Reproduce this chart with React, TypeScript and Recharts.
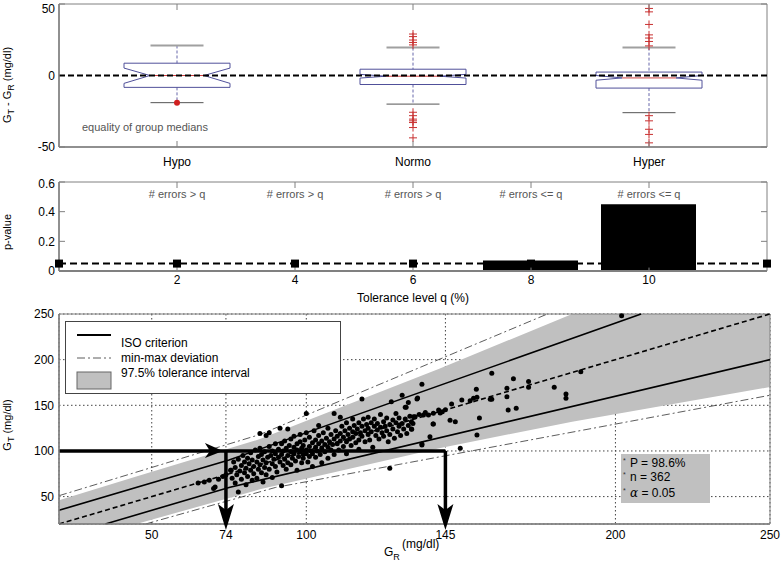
import React from "react";
import {
  ComposedChart,
  Bar,
  Line,
  Area,
  Scatter,
  XAxis,
  YAxis,
  CartesianGrid,
  ReferenceLine,
  ReferenceArea,
} from "recharts";

const FONT = "'Liberation Sans', Arial, Helvetica, sans-serif";
const AXIS = "#808080";
const W = 784;

// ---- top panel: G_T - G_R per glycaemic range
const groups = ["Hypo", "Normo", "Hyper"];
const q1 = [-8.3, -6.3, -8.8];
const q3 = [8.6, 4.4, 2.4];
const medians = [0, -0.5, -1.7];
const notchLo = [-5.5, -1.8, -3.3];
const notchHi = [5.2, 0.8, 0];
const whiskerLo = [-19, -20, -26];
const whiskerHi = [21, 19.5, 19.5];
const outliers = [
  [-19],
  [29, 27.2, 24.8, 23.1, 21.4, -25.7, -28.1, -30.5, -31.7, -32.9, -36.4, -43.6],
  [46.9, 44.5, 35.7, 28.4, 26.2, 23.8, 20.7, -28.1, -31.7, -37.6, -41.2, -47.1],
];
const outlierMarks = ["dot", "plus", "plus"];
const diffTicks = [-50, 0, 50];

// ---- middle panel: p-value per tolerance level
const tolLevels = [0, 2, 4, 6, 8, 10, 12];
const pValues = [0, 0, 0, 0, 0.07, 0.45, 0];
const alphaLevel = [0.05, 0.05, 0.05, 0.05, 0.05, 0.05, 0.05];
const testTags = ["", "# errors > q", "# errors > q", "# errors > q", "# errors <= q", "# errors <= q", ""];
const qTicks = [2, 4, 6, 8, 10];
const pTicks = [0, 0.2, 0.4, 0.6];

// ---- bottom panel: G_T vs G_R
const grTicks = [50, 74, 100, 145, 200, 250];
const gtTicks = [50, 100, 150, 200, 250];
const isoUpper = [[20, 35], [75, 90], [208.3, 250]];
const isoLower = [[35, 20], [75, 60], [250, 200]];
const identity = [[20, 20], [250, 250]];
const minmaxUpper = [[20, 51], [85, 118], [178, 250]];
const minmaxLower = [[48, 20], [90, 60], [250, 161]];
const bandX = [20, 45, 85, 143, 186, 250];
const bandLo = [20, 20, 58, 103, 132, 170];
const bandHi = [46, 72, 113, 190, 250, 250];
const arrowH = [[20, 100], [145, 100]];
const arrowV74 = [[74, 100], [74, 20]];
const arrowV145 = [[145, 100], [145, 20]];
const arrowTips = [
  { x: 74, y: 100, dir: "right" },
  { x: 74, y: 20, dir: "down" },
  { x: 145, y: 20, dir: "down" },
];
const readings: [number, number][] = [
  [65, 65], [67, 66], [68.6, 68], [70, 59], [70.5, 60.5], [71.6, 69], [73, 72], [74, 74], [75.7, 79],
  [75.5, 79], [76, 70], [76.5, 88], [77, 82], [77, 65], [77.5, 74], [78, 55], [78, 91], [78.5, 78],
  [79, 84], [79, 69], [79.5, 95], [80, 76], [80, 88], [80.5, 63], [80.5, 81], [81, 92], [81, 72],
  [81.5, 86], [82, 79], [82, 98], [82.5, 68], [82.5, 90], [83, 83], [83, 75], [83.5, 101], [84, 88],
  [84, 70], [84.5, 94], [84.5, 80], [85, 119], [85, 103], [85, 85], [85.5, 76], [85.5, 96], [86, 66],
  [86, 90], [86.5, 82], [86.5, 99], [87, 117], [87, 87], [87, 74], [87.5, 93], [88, 120], [88, 105],
  [88, 80], [88.5, 95], [89, 86], [89, 100], [89, 71], [89.5, 91], [90, 108], [90, 83], [90, 97],
  [90.5, 77], [91, 102], [91, 93], [91.5, 125], [91.5, 88], [92, 62], [92, 108], [92, 96], [92.5, 84],
  [92.5, 100], [93, 111], [93, 91], [93.5, 103], [93.5, 80], [94, 124], [94, 95], [94, 87], [94.5, 106],
  [95, 99], [95, 113], [95, 85], [95.5, 92], [96, 104], [96, 97], [96, 116], [96.5, 89], [97, 101],
  [97, 108], [97, 79], [97.5, 94], [98, 110], [98, 99], [98, 118], [98.5, 103], [98.5, 87], [99, 96],
  [99, 106], [99, 92], [99.5, 112], [100, 141], [100, 101], [100, 97], [100, 120], [100.5, 88], [101, 105],
  [101, 94], [101, 115], [101.5, 100], [102, 109], [102, 83], [102, 97], [102.5, 122], [103, 104], [103, 112],
  [103, 93], [103.5, 100], [104, 128], [104, 108], [104, 117], [104.5, 96], [105, 111], [105, 103], [105, 87],
  [105.5, 120], [106, 107], [106, 99], [106.5, 114], [107, 125], [107, 104], [107, 92], [107.5, 110], [108, 118],
  [108, 101], [108.5, 107], [109, 141], [109, 113], [109, 96], [109.5, 122], [110, 108], [110, 116],
  [110.5, 101], [111, 137], [111, 119], [111, 111], [111.5, 127], [112, 105], [112, 115], [112.5, 122],
  [113, 110], [113, 131], [113, 97], [113.5, 118], [114, 125], [114, 113], [114.5, 106], [115, 121],
  [115, 135], [115, 115], [115.5, 128], [116, 109], [116, 119], [116.5, 124], [117, 131], [117, 112],
  [117, 102], [117.5, 120], [118, 157], [118, 127], [118, 116], [118.5, 135], [119, 122], [119, 110],
  [119.5, 129], [120, 137], [120, 118], [120, 125], [120.5, 112], [121, 131], [121, 121], [121.5, 104],
  [122, 127], [122, 135], [122.5, 117], [123, 123], [123, 130], [123.5, 113], [124, 126], [124, 140],
  [124.5, 120], [125, 132], [125, 116], [125.5, 127], [126, 122], [126, 136], [126.5, 110], [127, 129],
  [127, 118], [127.5, 154], [128, 134], [128, 124], [128.5, 114], [129, 131], [129, 141], [129.5, 121],
  [130, 127], [130, 136], [130.5, 117], [131, 161], [131, 130], [131.5, 124], [132, 148], [132, 135],
  [132.5, 119], [133, 153], [133, 128], [133.5, 138], [134, 124], [134, 132], [134.5, 130], [127, 81],
  [135.8, 157], [137.4, 173], [136, 158], [132.3, 147.8], [134.7, 137.6], [134.1, 123.8], [137.4, 107.6],
  [140, 115.6], [141, 129.5], [143.3, 141.6], [146.5, 133.6], [147, 151.4], [150.3, 155.8], [149.8, 103],
  [153, 155], [155, 167.6], [155.2, 158.8], [156, 136], [155.2, 117.5], [160, 185], [159.5, 156.6],
  [164.9, 168.7], [164.9, 159.4], [165.3, 144.9], [167.9, 146.7], [167, 179.2], [171.9, 176], [171.9, 169.8],
  [180.2, 169.8], [184, 162.4], [184, 157.7], [202, 248], [188.8, 186.8], [135.2, 137.6], [137.9, 139.4],
  [139.5, 139.4], [141.1, 141.2], [142.8, 144.9], [148.2, 131.9], [141.1, 129.5], [137.4, 106.5],
  [154.1, 157.7], [160, 156.6], [136.5, 140], [138.5, 142], [144, 143], [145, 145],
];

const boxData = groups.map((name, i) => {
  const all = [whiskerLo[i], whiskerHi[i], ...outliers[i]];
  return {
    name,
    range: [Math.min(...all), Math.max(...all)],
    q1: q1[i],
    q3: q3[i],
    med: medians[i],
    nLo: notchLo[i],
    nHi: notchHi[i],
    wLo: whiskerLo[i],
    wHi: whiskerHi[i],
    out: outliers[i],
    mark: outlierMarks[i],
  };
});

const pData = tolLevels.map((q, i) => ({ q, p: pValues[i], alpha: alphaLevel[i] }));
const toXY = (pts: number[][]) => pts.map(([x, y]) => ({ x, y }));
const bandData = bandX.map((x, i) => ({ x, band: [bandLo[i], bandHi[i]] }));
const scatterData = readings.map(([x, y]) => ({ x, y }));

const BoxShape = (props: any) => {
  const { x, y, width, height, payload } = props;
  const d = payload;
  const [lo, hi] = d.range;
  const top = Math.min(y, y + height);
  const k = Math.abs(height) / (hi - lo);
  const py = (v: number) => top + (hi - v) * k;
  const cx = x + width / 2;
  const L = x;
  const R = x + width;
  const ind = width * 0.245;
  const cap = width * 0.25;
  const path = `M${L},${py(d.q3)} L${R},${py(d.q3)} L${R},${py(d.nHi)} L${R - ind},${py(d.med)} L${R},${py(d.nLo)} L${R},${py(d.q1)} L${L},${py(d.q1)} L${L},${py(d.nLo)} L${L + ind},${py(d.med)} L${L},${py(d.nHi)} Z`;
  return (
    <g>
      <line x1={cx} x2={cx} y1={py(d.wHi)} y2={py(d.q3)} stroke="#6666aa" strokeDasharray="3 2" />
      <line x1={cx} x2={cx} y1={py(d.q1)} y2={py(d.wLo)} stroke="#6666aa" strokeDasharray="3 2" />
      <line x1={cx - cap} x2={cx + cap} y1={py(d.wHi)} y2={py(d.wHi)} stroke="#a0a0a0" strokeWidth={2} />
      <line x1={cx - cap} x2={cx + cap} y1={py(d.wLo)} y2={py(d.wLo)} stroke="#555" strokeWidth={1} />
      <path d={path} fill="none" stroke="#50509a" strokeWidth={1} />
      <line x1={L + ind} x2={R - ind} y1={py(d.med)} y2={py(d.med)} stroke="#d04040" strokeWidth={1} />
      {d.out.map((v: number, j: number) =>
        d.mark === "dot" ? (
          <circle key={j} cx={cx} cy={py(v)} r={3} fill="#d02020" />
        ) : (
          <g key={j} stroke="#c83030" strokeWidth={1}>
            <line x1={cx - 4} x2={cx + 4} y1={py(v)} y2={py(v)} />
            <line x1={cx} x2={cx} y1={py(v) - 4} y2={py(v) + 4} />
          </g>
        )
      )}
    </g>
  );
};

// tick labels; inward tick marks come from the reference-line shapes below
const leftTick = (p: any) => (
  <text x={p.x} y={p.y} dy="0.35em" textAnchor="end" fontSize={12} fill="#000">
    {p.payload.value}
  </text>
);
const bottomTick = (p: any) => (
  <text x={p.x} y={p.y} dy="0.71em" textAnchor="middle" fontSize={12} fill="#000">
    {p.payload.value}
  </text>
);
const vTickShape = (p: any) => {
  const top = Math.min(p.y1, p.y2);
  const bot = Math.max(p.y1, p.y2);
  return (
    <g stroke={AXIS}>
      <line x1={p.x1} x2={p.x1} y1={top} y2={top + 6} />
      <line x1={p.x1} x2={p.x1} y1={bot} y2={bot - 6} />
    </g>
  );
};
const hTickShape = (p: any) => {
  const l = Math.min(p.x1, p.x2);
  const r = Math.max(p.x1, p.x2);
  return (
    <g stroke={AXIS}>
      <line x1={l} x2={l + 6} y1={p.y1} y2={p.y1} />
      <line x1={r} x2={r - 6} y1={p.y1} y2={p.y1} />
    </g>
  );
};

const squareDot = (p: any) => <rect key={p.index} x={p.cx - 4} y={p.cy - 4} width={8} height={8} fill="#000" />;
const pointShape = (p: any) => <circle cx={p.cx} cy={p.cy} r={2.5} fill="#000" />;
const arrowShape = (p: any) => {
  const { cx, cy } = p;
  const pts =
    p.payload.dir === "right"
      ? `${cx - 3},${cy} ${cx - 21},${cy - 8} ${cx - 16},${cy} ${cx - 21},${cy + 7}`
      : `${cx},${cy + 6} ${cx - 8},${cy - 20} ${cx},${cy - 14} ${cx + 8},${cy - 20}`;
  return <polygon points={pts} fill="#000" />;
};

export default function App() {
  return (
    <div style={{ position: "absolute", left: 0, top: 0, width: W, height: 566, background: "#fff", fontFamily: FONT }}>
      {/* top: box plots */}
      <div style={{ position: "absolute", left: 0, top: 0 }}>
        <ComposedChart width={W} height={175} data={boxData} margin={{ top: 4, right: 17, bottom: 0, left: 0 }}>
          <XAxis dataKey="name" height={28} tickSize={0} tickMargin={10} tickLine={false}
            axisLine={{ stroke: AXIS, strokeWidth: 1.5 }} tick={bottomTick} />
          <YAxis type="number" domain={[-50, 50]} ticks={diffTicks} width={59} tickSize={0} tickMargin={4}
            tickLine={false} axisLine={{ stroke: AXIS, strokeWidth: 1.5 }} tick={leftTick} />
          <ReferenceArea y1={-50} y2={50} fill="none" stroke={AXIS} />
          {groups.map((g) => (
            <ReferenceLine key={g} x={g} stroke="none" shape={vTickShape} />
          ))}
          {diffTicks.map((v) => (
            <ReferenceLine key={v} y={v} stroke="none" shape={hTickShape} />
          ))}
          <Bar dataKey="range" barSize={106} shape={BoxShape} isAnimationActive={false} />
          <ReferenceLine y={0} stroke="#000" strokeWidth={2} strokeDasharray="6 3" />
        </ComposedChart>
      </div>

      {/* middle: p-values */}
      <div style={{ position: "absolute", left: 0, top: 175 }}>
        <ComposedChart width={W} height={130} data={pData} margin={{ top: 7, right: 17, bottom: 0, left: 0 }}>
          <XAxis dataKey="q" type="number" domain={[0, 12]} ticks={qTicks} height={34} tickSize={0} tickMargin={4}
            tickLine={false} axisLine={{ stroke: AXIS, strokeWidth: 2 }} tick={bottomTick}
            label={{ value: "Tolerance level q (%)", position: "insideBottom", offset: 3, fontSize: 12, fill: "#000" }} />
          <YAxis type="number" domain={[0, 0.6]} ticks={pTicks} width={59} tickSize={0} tickMargin={4}
            tickLine={false} axisLine={{ stroke: AXIS, strokeWidth: 1.5 }} tick={leftTick} />
          <ReferenceArea y1={0} y2={0.6} fill="none" stroke={AXIS} />
          {tolLevels.map((q, i) =>
            testTags[i] ? (
              <ReferenceLine key={q} x={q} stroke="none" shape={vTickShape}
                label={{ value: testTags[i], position: "insideTop", offset: 8, fontSize: 11, fill: "#555" }} />
            ) : null
          )}
          {pTicks.map((v) => (
            <ReferenceLine key={v} y={v} stroke="none" shape={hTickShape} />
          ))}
          <Line dataKey="alpha" stroke="#000" strokeWidth={2} strokeDasharray="7 4" dot={squareDot}
            isAnimationActive={false} />
          <Bar dataKey="p" barSize={95} fill="#000" isAnimationActive={false} />
        </ComposedChart>
      </div>

      {/* bottom: G_T vs G_R */}
      <div style={{ position: "absolute", left: 0, top: 305 }}>
        <ComposedChart width={W} height={261} margin={{ top: 9, right: 14, bottom: 0, left: 0 }}>
          <CartesianGrid stroke="#444" strokeDasharray="1.5 2.5" />
          <XAxis dataKey="x" type="number" domain={[20, 250]} ticks={grTicks} height={42} tickSize={0} tickMargin={6}
            tickLine={false} axisLine={{ stroke: AXIS, strokeWidth: 1.5 }} tick={bottomTick} />
          <YAxis type="number" domain={[20, 250]} ticks={gtTicks} width={59} tickSize={0} tickMargin={5}
            tickLine={false} axisLine={{ stroke: AXIS, strokeWidth: 1.5 }} tick={leftTick} />
          <Area data={bandData} dataKey="band" type="linear" fill="#c0c0c0" fillOpacity={1} stroke="none"
            isAnimationActive={false} />
          <Line data={toXY(minmaxUpper)} dataKey="y" stroke="#333" strokeWidth={0.8} strokeDasharray="8 3 2 3"
            dot={false} isAnimationActive={false} />
          <Line data={toXY(minmaxLower)} dataKey="y" stroke="#333" strokeWidth={0.8} strokeDasharray="8 3 2 3"
            dot={false} isAnimationActive={false} />
          <Line data={toXY(isoUpper)} dataKey="y" stroke="#000" strokeWidth={1.6} dot={false} isAnimationActive={false} />
          <Line data={toXY(isoLower)} dataKey="y" stroke="#000" strokeWidth={1.6} dot={false} isAnimationActive={false} />
          <Line data={toXY(identity)} dataKey="y" stroke="#000" strokeWidth={1.6} strokeDasharray="5 3"
            dot={false} isAnimationActive={false} />
          <Scatter data={scatterData} dataKey="y" shape={pointShape} isAnimationActive={false} />
          <Line data={toXY(arrowH)} dataKey="y" stroke="#000" strokeWidth={3.5} dot={false} isAnimationActive={false} />
          <Line data={toXY(arrowV74)} dataKey="y" stroke="#000" strokeWidth={3.5} dot={false} isAnimationActive={false} />
          <Line data={toXY(arrowV145)} dataKey="y" stroke="#000" strokeWidth={3.5} dot={false} isAnimationActive={false} />
          <Scatter data={arrowTips} dataKey="y" shape={arrowShape} isAnimationActive={false} />
          <ReferenceArea y1={20} y2={250} fill="none" stroke={AXIS} />
        </ComposedChart>
      </div>

      {/* legend */}
      <div style={{ position: "absolute", left: 65, top: 321, width: 276, height: 73, border: "1px solid #444",
        background: "#fff", boxSizing: "border-box" }}>
        <svg width={274} height={71} style={{ position: "absolute", left: 0, top: 0 }}>
          <line x1={11} x2={45} y1={13} y2={13} stroke="#000" strokeWidth={2} />
          <text x={55} y={25} fontSize={12} fill="#000">ISO criterion</text>
          <line x1={11} x2={45} y1={36} y2={36} stroke="#333" strokeWidth={0.8} strokeDasharray="8 3 2 3" />
          <text x={55} y={40} fontSize={12} fill="#000">min-max deviation</text>
          <rect x={11} y={50} width={34} height={17} fill="#c0c0c0" stroke="#666" />
          <text x={55} y={55} fontSize={12} fill="#000">97.5% tolerance interval</text>
        </svg>
      </div>

      {/* statistics box */}
      <div style={{ position: "absolute", left: 621, top: 454, width: 89, height: 49, background: "#c0c0c0" }}>
        <svg width={89} height={49} style={{ position: "absolute", left: 0, top: 0 }}>
          <text x={2} y={9} fontSize={7} fill="#333">*</text>
          <text x={9} y={13} fontSize={12} fill="#000">P = 98.6%</text>
          <text x={2} y={23} fontSize={7} fill="#333">*</text>
          <text x={9} y={27} fontSize={12} fill="#000">n = 362</text>
          <text x={2} y={39} fontSize={7} fill="#333">*</text>
          <text x={9} y={43} fontSize={12} fill="#000">
            <tspan fontFamily="'DejaVu Serif', serif" fontStyle="italic">α</tspan> = 0.05
          </text>
        </svg>
      </div>

      {/* axis titles and notes */}
      <svg width={W} height={566} style={{ position: "absolute", left: 0, top: 0, pointerEvents: "none" }}>
        <text transform="translate(11,85) rotate(-90)" textAnchor="middle" fontSize={11} fill="#000">
          G<tspan fontSize={9} dy={3}>T</tspan><tspan dy={-3}> - G</tspan><tspan fontSize={9} dy={3}>R</tspan>
          <tspan dy={-3}> (mg/dl)</tspan>
        </text>
        <text transform="translate(11,232) rotate(-90)" textAnchor="middle" fontSize={11} fill="#000">p-value</text>
        <text transform="translate(11,425) rotate(-90)" textAnchor="middle" fontSize={11} fill="#000">
          G<tspan fontSize={9} dy={3}>T</tspan><tspan dy={-3}> (mg/dl)</tspan>
        </text>
        <text x={82} y={131} fontSize={11} fill="#555">equality of group medians</text>
        <text x={384} y={556} fontSize={12} fill="#000">
          G<tspan fontSize={9} dy={4}>R</tspan>
        </text>
        <text x={402} y={548} fontSize={12} fill="#000">(mg/dl)</text>
      </svg>
    </div>
  );
}
